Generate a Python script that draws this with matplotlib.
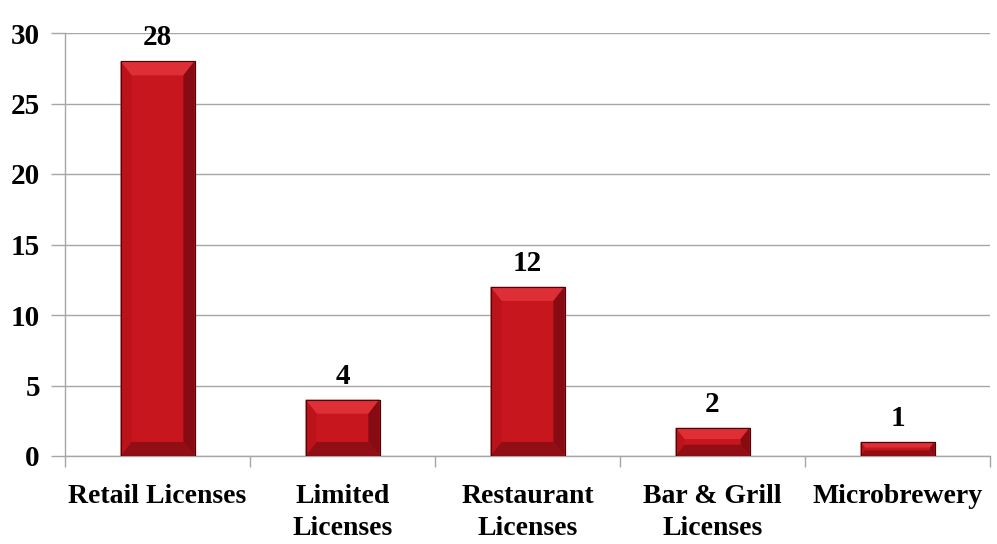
import matplotlib.pyplot as plt
from matplotlib.patches import Polygon
import numpy as np

categories = ['Retail Licenses', 'Limited\nLicenses', 'Restaurant\nLicenses',
              'Bar & Grill\nLicenses', 'Microbrewery']
values = [28, 4, 12, 2, 1]
y_ticks = [0, 5, 10, 15, 20, 25, 30]

plt.rcParams['font.family'] = ['Liberation Serif', 'DejaVu Serif']
plt.rcParams['font.weight'] = 'bold'

fig = plt.figure(figsize=(9.97, 5.44), dpi=100)
ax = fig.add_axes([65 / 997, 1 - 456 / 544, 925 / 997, 423 / 544])

x = np.arange(len(values))
width = 0.4
bars = ax.bar(x, values, width=width, color='#C8161E', edgecolor='#5A0508',
              linewidth=0.8, zorder=3)

# bevel effect
bx = 0.06   # data units in x
by = 1.0    # data units in y
for xi, v in zip(x, values):
    l, r = xi - width / 2, xi + width / 2
    d = min(by, v / 2.5)
    dx = bx * d / by
    # top
    ax.add_patch(Polygon([(l, v), (r, v), (r - dx, v - d), (l + dx, v - d)],
                         closed=True, color='#DE2E36', lw=0, zorder=4))
    # right side
    ax.add_patch(Polygon([(r, v), (r, 0), (r - dx, d), (r - dx, v - d)],
                         closed=True, color='#860B12', lw=0, zorder=4))
    # left side
    ax.add_patch(Polygon([(l, v), (l, 0), (l + dx, d), (l + dx, v - d)],
                         closed=True, color='#BC131B', lw=0, zorder=4))
    # bottom
    ax.add_patch(Polygon([(l, 0), (r, 0), (r - dx, d), (l + dx, d)],
                         closed=True, color='#920E15', lw=0, zorder=4))
    ax.add_patch(Polygon([(l, 0), (r, 0), (r, v), (l, v)], closed=True,
                         fill=False, ec='#4A0406', lw=0.8, zorder=5))
    ax.text(xi, v + 0.7, str(v), ha='center', va='bottom', fontsize=21,
            fontweight='bold', zorder=6)

ax.set_xlim(-0.5, len(values) - 0.5)
ax.set_ylim(0, 30)
ax.set_yticks(y_ticks)
ax.set_yticklabels([str(t) for t in y_ticks], fontsize=21, fontweight='bold')
ax.yaxis.grid(True, color='#A6A6A6', linewidth=1, zorder=0)
ax.set_axisbelow(True)

ax.set_xticks(x)
ax.set_xticklabels(categories, fontsize=20, fontweight='bold', linespacing=1.4)
ax.tick_params(axis='x', length=0, pad=20)
ax.set_xticks(np.arange(-0.5, len(values) + 0.5, 1), minor=True)
ax.tick_params(axis='x', which='minor', length=8, color='#A6A6A6', width=1)
ax.tick_params(axis='y', length=10, color='#A6A6A6', width=1, pad=8)

for s in ['top', 'right']:
    ax.spines[s].set_visible(False)
for s in ['left', 'bottom']:
    ax.spines[s].set_color('#A6A6A6')
    ax.spines[s].set_linewidth(1)

fig.savefig('out.png', dpi=100)
